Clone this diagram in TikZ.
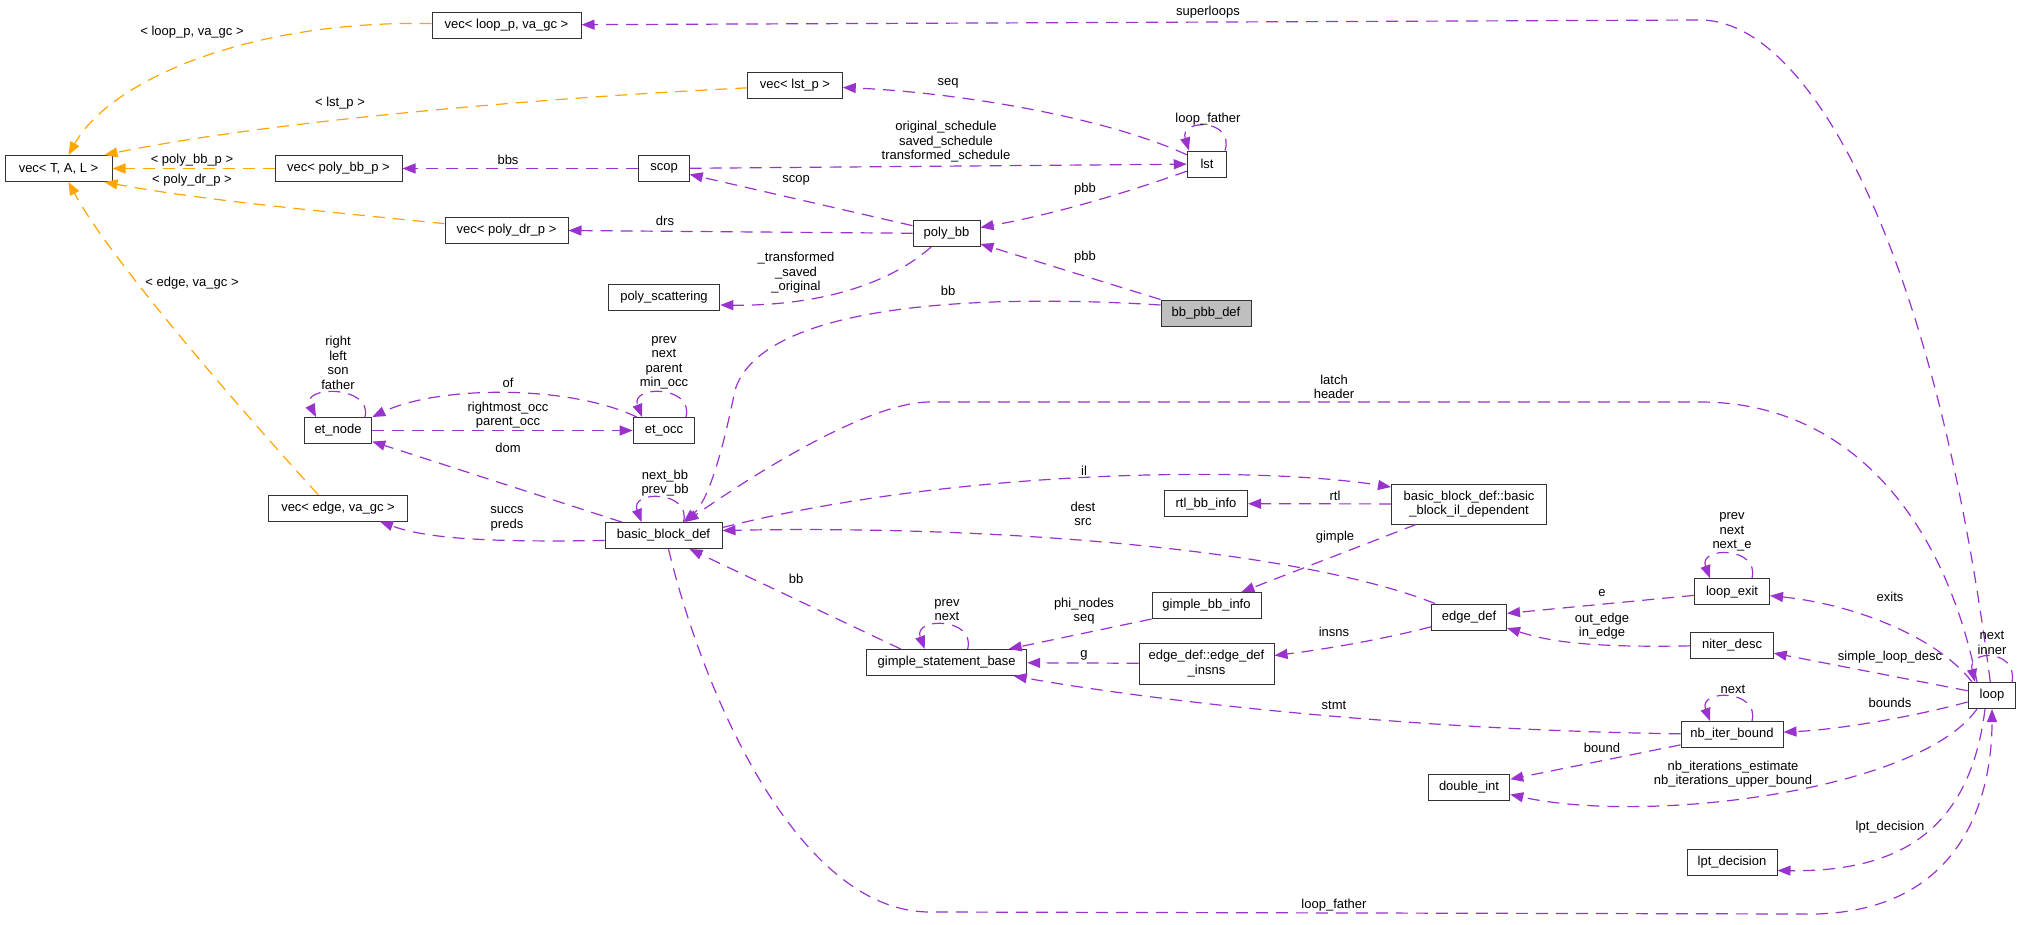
\documentclass[tikz,border=0pt]{standalone}
\usepackage{fontspec}
\setmainfont{Liberation Sans}
\usepackage{tikz}
\usetikzlibrary{arrows.meta}
\definecolor{memberpurple}{HTML}{9A32CD}
\definecolor{tmplorange}{HTML}{FFA500}
\definecolor{curgray}{HTML}{BFBFBF}

\begin{document}
\begin{tikzpicture} [x=1pt, y=-1pt, font=\fontsize{13}{14.5}\selectfont,
  cls/.style={draw=black!80, line width=1pt, fill=white, minimum height=26pt, inner xsep=3pt, inner ysep=0pt, align=center},
  member/.style={memberpurple, line width=1.2pt, dash pattern=on 12pt off 8pt, -{Triangle[length=13pt,width=10pt]}},
  tmpl/.style={member, tmplorange},
  lbl/.style={inner sep=0pt, align=center}]

\useasboundingbox (0,0) rectangle (2021,924);

\node[cls, minimum width=107pt] (vecTAL) at (58.5,168.5) {vec< T, A, L >};
\node[cls, minimum width=149pt] (vecLoop) at (506.5,25) {vec< loop\_p, va\_gc >};
\node[cls, minimum width=94.5pt] (vecLst) at (795,85.5) {vec< lst\_p >};
\node[cls, minimum width=127pt] (vecPolyBB) at (338.5,168.5) {vec< poly\_bb\_p >};
\node[cls, minimum width=50.4pt] (scop) at (664,168.5) {scop};
\node[cls, minimum width=123pt] (vecPolyDR) at (506.5,230) {vec< poly\_dr\_p >};
\node[cls, minimum width=67pt] (polyBB) at (946.5,233.5) {poly\_bb};
\node[cls, minimum width=111.6pt] (polyScat) at (664,297) {poly\_scattering};
\node[cls, minimum width=39.5pt] (lst) at (1207,164) {lst};
\node[cls, minimum width=90pt, fill=curgray] (bbPbb) at (1206,313) {bb\_pbb\_def};
\node[cls, minimum width=67.5pt] (etNode) at (338,430.5) {et\_node};
\node[cls, minimum width=61.6pt] (etOcc) at (664,430.5) {et\_occ};
\node[cls, minimum width=138.6pt] (vecEdge) at (338,508) {vec< edge, va\_gc >};
\node[cls, minimum width=117pt] (bbd) at (663.5,535.5) {basic\_block\_def};
\node[cls, minimum width=83pt] (rtlInfo) at (1206,503.7) {rtl\_bb\_info};
\node[cls, minimum width=155pt, minimum height=40pt] (bbIl) at (1469,504) {basic\_block\_def::basic\\\_block\_il\_dependent};
\node[cls, minimum width=109pt] (gimpleInfo) at (1206.5,605.5) {gimple\_bb\_info};
\node[cls, minimum width=160pt] (gsb) at (946.7,662.5) {gimple\_statement\_base};
\node[cls, minimum width=135pt, minimum height=41pt] (edInsns) at (1206.5,663.5) {edge\_def::edge\_def\\\_insns};
\node[cls, minimum width=75pt] (edgeDef) at (1469,617) {edge\_def};
\node[cls, minimum width=75pt] (loopExit) at (1732,591.7) {loop\_exit};
\node[cls, minimum width=82.5pt] (niterDesc) at (1732,645) {niter\_desc};
\node[cls, minimum width=102pt] (nbIter) at (1732,734.5) {nb\_iter\_bound};
\node[cls, minimum width=81.5pt] (doubleInt) at (1469,787.5) {double\_int};
\node[cls, minimum width=90pt] (lptDec) at (1732,862.5) {lpt\_decision};
\node[cls, minimum width=47.7pt] (loop) at (1992,695.5) {loop};

\draw[tmpl] (vecLoop) .. controls (250,20) and (110,80) .. ([xshift=10pt]vecTAL.north);
\draw[tmpl] (vecLst) .. controls (500,100) and (250,125) .. ([xshift=46pt]vecTAL.north);
\draw[tmpl] (vecPolyBB.west) -- (vecTAL.east);
\draw[tmpl] (vecPolyDR) .. controls (330,212) and (200,200) .. ([xshift=46pt]vecTAL.south);
\draw[tmpl] ([xshift=-20pt]vecEdge.north) .. controls (250,420) and (110,260) .. ([xshift=10pt]vecTAL.south);

\draw[member] (loop) .. controls (1935,250) and (1810,20) .. (1700,20) -- (vecLoop);
\draw[member] ([xshift=-15pt]loop.north) .. controls (1945,520) and (1850,402) .. (1700,402) -- (930,402) .. controls (870,402) and (760,470) .. ([xshift=22pt]bbd.north);
\draw[member] ([yshift=8pt]bbPbb.west) .. controls (950,292) and (760,310) .. (735,390) .. controls (725,440) and (710,500) .. ([xshift=20pt]bbd.north);
\draw[member] (bbPbb.north west) -- (polyBB);
\draw[member] (lst) .. controls (1120,195) and (1050,215) .. (polyBB);
\draw[member] (scop) -- (lst);
\draw[member] (lst) .. controls (1100,115) and (950,92) .. (vecLst);
\draw[member] ([xshift=18pt]lst.north) .. controls +(10,-32) and +(-10,-32) .. ([xshift=-18pt]lst.north);
\draw[member] (scop.west) -- (vecPolyBB.east);
\draw[member] (polyBB) -- (scop);
\draw[member] (polyBB) -- (vecPolyDR);
\draw[member] (polyBB) .. controls (880,292) and (800,306) .. ([yshift=-8pt]polyScat.east);

\draw[member] (etNode) -- (etOcc);
\draw[member] ([xshift=4pt]etOcc.north west) .. controls (570,385) and (440,385) .. (etNode.north east);
\draw[member] ([xshift=27pt]etNode.north) .. controls +(8,-32) and +(-16,-32) .. ([xshift=-22pt]etNode.north);
\draw[member] ([xshift=22pt]etOcc.north) .. controls +(8,-32) and +(-12,-32) .. ([xshift=-22pt]etOcc.north);
\draw[member] (bbd) -- (etNode);
\draw[member] ([yshift=-5pt]bbd.west) .. controls (500,542) and (430,540) .. ([xshift=42pt]vecEdge.south);
\draw[member] ([xshift=20pt]bbd.north) .. controls +(8,-32) and +(-12,-32) .. ([xshift=-22pt]bbd.north);

\draw[member] ([yshift=8pt]bbd.east) .. controls (950,470) and (1250,465) .. ([yshift=17pt]bbIl.west);
\draw[member] (bbIl) -- (rtlInfo);
\draw[member] (bbIl) -- (gimpleInfo);
\draw[member] (edgeDef) .. controls (1300,550) and (1000,525) .. ([yshift=5pt]bbd.east);
\draw[member] ([xshift=-46pt]gsb.north) -- ([xshift=26pt]bbd.south);
\draw[member] ([xshift=21pt]gsb.north) .. controls +(8,-32) and +(-12,-32) .. ([xshift=-22pt]gsb.north);
\draw[member] (gimpleInfo.south west) -- ([xshift=62pt]gsb.north);
\draw[member] (edInsns) -- (gsb);
\draw[member] (edgeDef) .. controls (1380,640) and (1320,650) .. ([yshift=8pt]edInsns.east);

\draw[member] (loopExit) -- (edgeDef);
\draw[member] ([xshift=20pt]loopExit.north) .. controls +(8,-32) and +(-12,-32) .. ([xshift=-22pt]loopExit.north);
\draw[member] (niterDesc) .. controls (1580,648) and (1545,640) .. ([yshift=-11pt]edgeDef.east);
\draw[member] ([xshift=-20pt]loop.north) .. controls (1940,640) and (1860,605) .. (loopExit);
\draw[member] (loop) -- (niterDesc);
\draw[member] (loop) .. controls (1900,720) and (1830,730) .. (nbIter);
\draw[member] ([xshift=20pt]nbIter.north) .. controls +(8,-32) and +(-12,-32) .. ([xshift=-22pt]nbIter.north);
\draw[member] (nbIter) .. controls (1400,730) and (1150,700) .. ([xshift=67pt]gsb.south);
\draw[member] (nbIter) -- (doubleInt);
\draw[member] ([xshift=-15pt]loop.south) .. controls (1920,790) and (1650,825) .. ([yshift=-7pt]doubleInt.east);
\draw[member] ([xshift=-7pt]loop.south) .. controls (1970,830) and (1900,872) .. ([yshift=-8pt]lptDec.east);
\draw[member] ([xshift=20pt]loop.north) .. controls +(6,-33) and +(-8,-33) .. ([xshift=-17pt]loop.north);
\draw[member] ([xshift=5pt]bbd.south) .. controls (705,700) and (800,912) .. (930,912) -- (1800,914) .. controls (1960,918) and (1992,800) .. (loop);

\node[lbl] (lbLoopP) at (192,32) {< loop\_p, va\_gc >};
\node[lbl] (lbLstP) at (340,103) {< lst\_p >};
\node[lbl] (lbPolyBBP) at (192,160) {< poly\_bb\_p >};
\node[lbl] (lbPolyDRP) at (192,180) {< poly\_dr\_p >};
\node[lbl] (lbEdgeGc) at (192,283) {< edge, va\_gc >};
\node[lbl] (lbSuperloops) at (1208,12) {superloops};
\node[lbl] (lbSeq) at (948,83) {seq};
\node[lbl] (lbLstFather) at (1208,119) {loop\_father};
\node[lbl] (lbSchedule) at (946,142) {original\_schedule\\saved\_schedule\\transformed\_schedule};
\node[lbl] (lbBbs) at (508,160) {bbs};
\node[lbl] (lbScop) at (796,180) {scop};
\node[lbl] (lbPbbA) at (1085,189) {pbb};
\node[lbl] (lbDrs) at (665,221) {drs};
\node[lbl] (lbPbbB) at (1085,257) {pbb};
\node[lbl] (lbScat) at (796,273) {\_transformed\\\_saved\\\_original};
\node[lbl] (lbBbA) at (948,291) {bb};
\node[lbl] (lbEtNode) at (338,363) {right\\left\\son\\father};
\node[lbl] (lbEtOcc) at (664,363) {prev\\next\\parent\\min\_occ};
\node[lbl] (lbOf) at (508,383) {of};
\node[lbl] (lbOcc) at (508,415) {rightmost\_occ\\parent\_occ};
\node[lbl] (lbDom) at (508,448) {dom};
\node[lbl] (lbLatch) at (1334,387) {latch\\header};
\node[lbl] (lbIl) at (1084,471) {il};
\node[lbl] (lbNextBB) at (665,483) {next\_bb\\prev\_bb};
\node[lbl] (lbRtl) at (1335,496) {rtl};
\node[lbl] (lbDest) at (1083,514) {dest\\src};
\node[lbl] (lbSuccs) at (507,519) {succs\\preds};
\node[lbl] (lbGimple) at (1335,537) {gimple};
\node[lbl] (lbBbB) at (796,579) {bb};
\node[lbl] (lbExitNext) at (1732,532) {prev\\next\\next\_e};
\node[lbl] (lbE) at (1602,593) {e};
\node[lbl] (lbExits) at (1890,597) {exits};
\node[lbl] (lbPhi) at (1084,611) {phi\_nodes\\seq};
\node[lbl] (lbGsbNext) at (947,610) {prev\\next};
\node[lbl] (lbInEdge) at (1602,626) {out\_edge\\in\_edge};
\node[lbl] (lbInsns) at (1334,632) {insns};
\node[lbl] (lbInner) at (1992,643) {next\\inner};
\node[lbl] (lbG) at (1084,655) {g};
\node[lbl] (lbSimple) at (1890,657) {simple\_loop\_desc};
\node[lbl] (lbNbNext) at (1733,689) {next};
\node[lbl] (lbBounds) at (1890,703) {bounds};
\node[lbl] (lbStmt) at (1334,705) {stmt};
\node[lbl] (lbBound) at (1602,748) {bound};
\node[lbl] (lbNbIter) at (1733,774) {nb\_iterations\_estimate\\nb\_iterations\_upper\_bound};
\node[lbl] (lbLpt) at (1890,827) {lpt\_decision};
\node[lbl] (lbLoopFather) at (1334,905) {loop\_father};

\end{tikzpicture}
\end{document}
